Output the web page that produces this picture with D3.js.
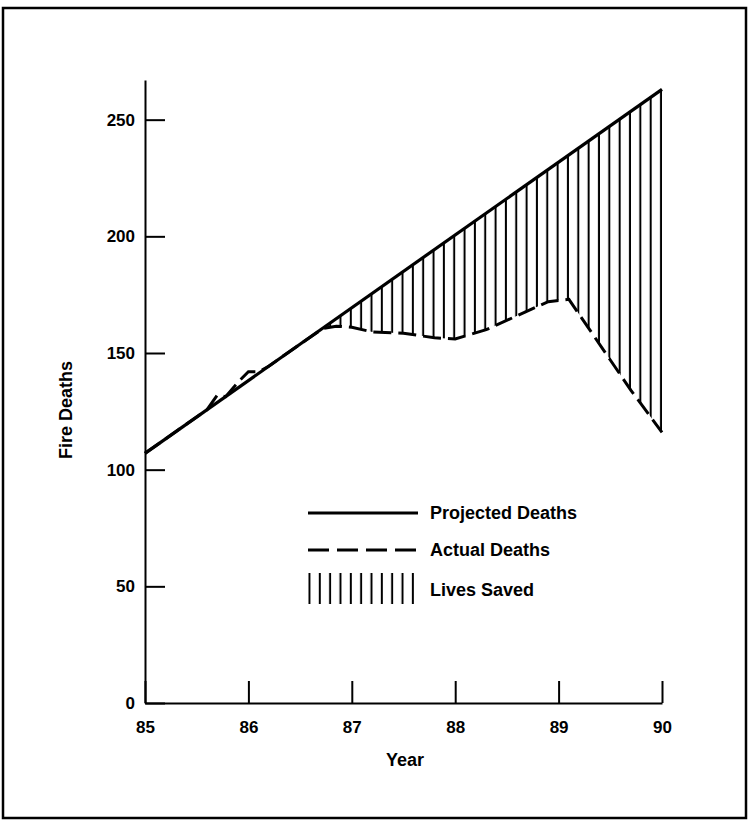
<!DOCTYPE html>
<html>
<head>
<meta charset="utf-8">
<script src="https://cdn.jsdelivr.net/npm/d3@7"></script>
<style>
  body { margin: 0; background: #fff; }
  svg text { font-family: "Liberation Sans", Arial, sans-serif; font-weight: bold; fill: #000; }
</style>
</head>
<body>
<div id="chart"></div>
<script>
// data
var projYears = [85, 90];
var projDeaths = [107, 263];

var actualYears  = [85.0, 85.6, 85.7, 85.78, 85.9, 86.0, 86.1, 86.2, 86.5, 86.72, 86.85, 87.0, 87.2, 87.5, 87.8, 88.0, 88.3, 88.6, 88.9, 89.1, 89.3, 89.5, 89.7, 90.0];
var actualDeaths = [107, 125.7, 132, 131.3, 137.5, 142, 142, 144.4, 153.8, 160.5, 161.5, 161, 159, 158.5, 156.5, 156, 160, 166, 172, 173, 160, 147, 134, 116];

var yearTicks = [85, 86, 87, 88, 89, 90];
var deathTicks = [0, 50, 100, 150, 200, 250];

var legendLabels = ["Projected Deaths", "Actual Deaths", "Lives Saved"];

// setup
var w = 751, h = 824;
var svg = d3.select("#chart").append("svg")
    .attr("width", w)
    .attr("height", h);

// page frame
svg.append("rect")
    .attr("x", 3).attr("y", 8)
    .attr("width", 743).attr("height", 810)
    .attr("fill", "none")
    .attr("stroke", "#000")
    .attr("stroke-width", 2.5);

var x = d3.scaleLinear().domain([85, 90]).range([145, 662]);
var y = d3.scaleLinear().domain([0, 267]).range([703, 80]);

// hatch pattern, one line every 0.1 year
var step = x(85.1) - x(85);
var defs = svg.append("defs");
var pat = defs.append("pattern")
    .attr("id", "hatch")
    .attr("patternUnits", "userSpaceOnUse")
    .attr("x", x(85)).attr("y", 0)
    .attr("width", step).attr("height", 10);
pat.append("line")
    .attr("x1", step - 1).attr("x2", step - 1)
    .attr("y1", 0).attr("y2", 10)
    .attr("stroke", "#000")
    .attr("stroke-width", 2);

defs.append("clipPath").attr("id", "gapclip")
    .append("rect")
    .attr("x", x(86.78)).attr("y", 0)
    .attr("width", x(90) - x(86.78) + 1).attr("height", h);

var proj = projYears.map(function(d, i){ return [d, projDeaths[i]]; });
var actual = actualYears.map(function(d, i){ return [d, actualDeaths[i]]; });

var line = d3.line()
    .x(function(d){ return x(d[0]); })
    .y(function(d){ return y(d[1]); });

// lives saved: region between projected and actual
var poly = proj.concat(actual.slice().reverse());
svg.append("path")
    .attr("d", line(poly) + "Z")
    .attr("fill", "url(#hatch)")
    .attr("stroke", "none")
    .attr("clip-path", "url(#gapclip)");

svg.append("path")
    .attr("d", line(actual))
    .attr("fill", "none")
    .attr("stroke", "#000")
    .attr("stroke-width", 3)
    .attr("stroke-dasharray", "18,7");

svg.append("path")
    .attr("d", line(proj))
    .attr("fill", "none")
    .attr("stroke", "#000")
    .attr("stroke-width", 3.2);

// axes
var yAxis = svg.append("g")
    .attr("transform", "translate(" + x(85) + ",0)")
    .call(d3.axisLeft(y).tickValues(deathTicks).tickSize(-20).tickSizeOuter(0).tickPadding(10));
var xAxis = svg.append("g")
    .attr("transform", "translate(0," + y(0) + ")")
    .call(d3.axisBottom(x).tickValues(yearTicks).tickFormat(d3.format("d")).tickSize(-22).tickSizeOuter(0).tickPadding(18));

[yAxis, xAxis].forEach(function(a){
    a.select(".domain").attr("stroke", "#000").attr("stroke-width", 2);
    a.selectAll(".tick line").attr("stroke", "#000").attr("stroke-width", 2);
    a.selectAll(".tick text").style("font-size", "17px").style("font-family", "Liberation Sans, Arial, sans-serif").style("font-weight", "bold");
});

svg.append("text")
    .attr("x", 405).attr("y", 766)
    .attr("text-anchor", "middle")
    .style("font-size", "18px")
    .text("Year");

svg.append("text")
    .attr("transform", "translate(72,410) rotate(-90)")
    .attr("text-anchor", "middle")
    .style("font-size", "18px")
    .text("Fire Deaths");

// legend
var lx0 = 308, lx1 = 418, tx = 430;
svg.append("line")
    .attr("x1", lx0).attr("x2", lx1)
    .attr("y1", 513).attr("y2", 513)
    .attr("stroke", "#000").attr("stroke-width", 3.2);
svg.append("line")
    .attr("x1", lx0).attr("x2", lx1)
    .attr("y1", 550).attr("y2", 550)
    .attr("stroke", "#000").attr("stroke-width", 3.2)
    .attr("stroke-dasharray", "21,8");
svg.append("rect")
    .attr("x", lx0).attr("y", 573)
    .attr("width", lx1 - lx0 + 1).attr("height", 31)
    .attr("fill", "url(#hatch)");

svg.selectAll(".leg")
    .data(legendLabels)
    .enter().append("text")
    .attr("class", "leg")
    .attr("x", tx)
    .attr("y", function(d, i){ return [513, 550, 590][i]; })
    .attr("dy", "0.35em")
    .style("font-size", "18px")
    .text(function(d){ return d; });
</script>
</body>
</html>
